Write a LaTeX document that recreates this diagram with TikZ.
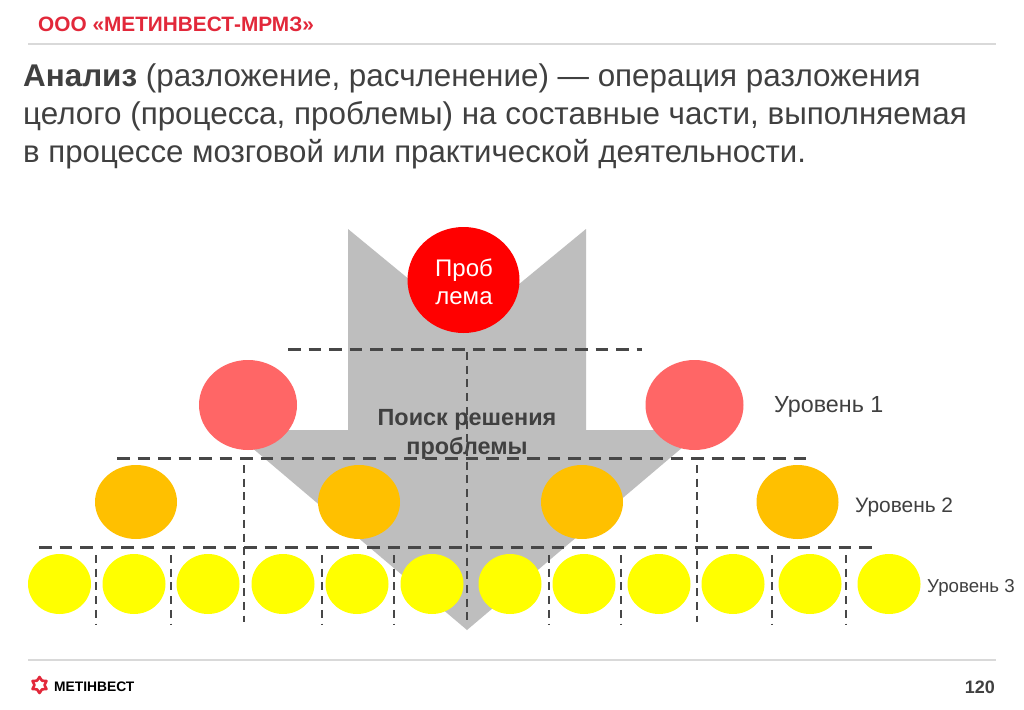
\documentclass[tikz,border=0pt]{standalone}
\usepackage{fontspec}
\setmainfont{Liberation Sans}
\definecolor{txt}{HTML}{404040}
\definecolor{titlered}{HTML}{E2283A}
\definecolor{rulegray}{HTML}{D9D9D9}
\definecolor{arrowgray}{HTML}{BEBEBE}
\definecolor{dashgray}{HTML}{474747}
\definecolor{pinkc}{HTML}{FF6666}
\definecolor{orangec}{HTML}{FFC000}
\definecolor{yellowc}{RGB}{255,255,0}
\definecolor{redc}{RGB}{255,0,0}
\newcommand{\fs}[1]{\fontsize{#1}{#1}\selectfont}
\tikzset{
  x=1pt,y=-1pt,
  hrule/.style={draw=rulegray,line width=1.3pt},
  hdash/.style={draw=dashgray,line width=3pt,dash pattern=on 12.5pt off 8pt},
  vdash/.style={draw=dashgray,line width=2pt,dash pattern=on 8pt off 5.7pt},
  blob/.style={ellipse,draw=none,inner sep=0pt},
  redblob/.style={blob,fill=redc,minimum width=112pt,minimum height=106pt},
  pinkblob/.style={blob,fill=pinkc,minimum width=98pt,minimum height=90pt},
  orangeblob/.style={blob,fill=orangec,minimum width=82pt,minimum height=74pt},
  yellowblob/.style={blob,fill=yellowc,minimum width=63pt,minimum height=60pt},
  lbl/.style={anchor=base west,inner sep=0pt,text=txt},
  ctr/.style={anchor=base,inner sep=0pt},
}
\usetikzlibrary{shapes.geometric}
\begin{document}
\begin{tikzpicture}
\useasboundingbox (0,0) rectangle (1024,709);
\fill[white] (0,0) rectangle (1024,709);
% rules
\coordinate (r1a) at (28,44); \coordinate (r1b) at (996,44);
\coordinate (r2a) at (28,660); \coordinate (r2b) at (996,660);
\draw[hrule] (r1a) -- (r1b);
\draw[hrule] (r2a) -- (r2b);
% header
\node[lbl,text=titlered,font=\fs{20.8}\bfseries] (title) at (38,32) {ООО «МЕТИНВЕСТ-МРМЗ»};
\node[lbl,font=\fs{31.4}] (l1) at (23,86) {\textbf{Анализ} (разложение, расчленение) — операция разложения};
\node[lbl,font=\fs{31.4}] (l2) at (23,124) {целого (процесса, проблемы) на составные части, выполняемая};
\node[lbl,font=\fs{31.2}] (l3) at (23,162) {в процессе мозговой или практической деятельности.};
% big arrow
\fill[arrowgray] (348,229) -- (467,327) -- (586,229) -- (586,430) -- (703,430) -- (467,630) -- (231,430) -- (348,430) -- cycle;
% circles
\node[redblob] (prob) at (463.5,280) {};
\node[ctr,font=\fs{24},text=white] (pt1) at (464,276) {Проб};
\node[ctr,font=\fs{24},text=white] (pt2) at (464,304) {лема};
\node[pinkblob] (p1) at (248,405) {};
\node[pinkblob] (p2) at (694.5,405) {};
\node[orangeblob] (o1) at (136,502) {};
\node[orangeblob] (o2) at (359,502) {};
\node[orangeblob] (o3) at (582,502) {};
\node[orangeblob] (o4) at (797.5,502) {};
\foreach \n/\x in {1/59.5,2/134,3/208,4/283,5/357,6/432,7/510,8/584,9/659,10/733,11/810,12/889}
  \node[yellowblob] (y\n) at (\x,584) {};
% labels under the dashes
\node[ctr,font=\fs{23.4}\bfseries,text=txt] (s1) at (467,425) {Поиск решения};
\node[ctr,font=\fs{23.4}\bfseries,text=txt] (s2) at (467,454) {проблемы};
% dashed lines
\coordinate (h1a) at (288,349); \coordinate (h1b) at (642,349);
\coordinate (h2a) at (117,458); \coordinate (h2b) at (808,458);
\coordinate (h3a) at (39,547);  \coordinate (h3b) at (875,547);
\draw[hdash] (h1a) -- (h1b);
\draw[hdash] (h2a) -- (h2b);
\draw[hdash] (h3a) -- (h3b);
\coordinate (vc0) at (467,352); \coordinate (vc1) at (467,624);
\draw[vdash] (vc0) -- (vc1);
\foreach \n/\x/\ya/\yb in {a/244/465/622,b/697/465/622,c/96/555/625,d/171/555/625,e/322/555/625,f/394/555/625,g/549/555/625,h/621/555/625,i/772/555/625,j/846/555/625}{
  \coordinate (v\n0) at (\x,\ya); \coordinate (v\n1) at (\x,\yb);
  \draw[vdash] (v\n0) -- (v\n1);
}
% labels
\node[lbl,font=\fs{23.3}] (u1) at (774,412) {Уровень 1};
\node[lbl,font=\fs{20.9}] (u2) at (855,512) {Уровень 2};
\node[lbl,font=\fs{18.7}] (u3) at (927,592) {Уровень 3};
% footer
\draw[titlered,line width=2.6pt,line join=round,shift={(39.5,685)}]
  (90:8) -- (60:5) -- (30:8) -- (0:5) -- (-30:8) -- (-60:5) -- (-90:8) -- (-120:5) -- (-150:8) -- (180:5) -- (150:8) -- (120:5) -- cycle;
\node[lbl,font=\fs{13.8}\bfseries,text=black] (logo) at (54,691) {МЕТІНВЕСТ};
\node[anchor=base east,inner sep=0pt,font=\fs{18}\bfseries,text=txt] (pg) at (995,693) {120};
\end{tikzpicture}
\end{document}
